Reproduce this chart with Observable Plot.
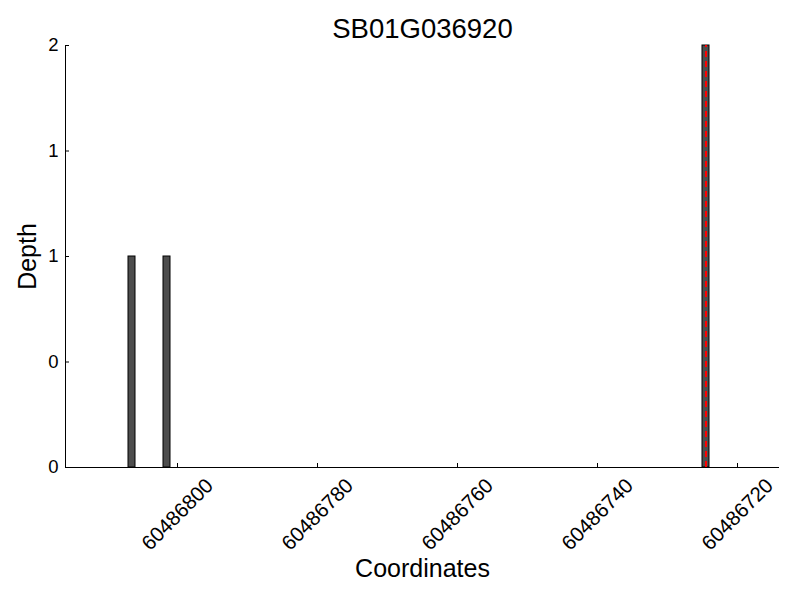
<!DOCTYPE html>
<html>
<head>
<meta charset="utf-8">
<script src="https://cdn.jsdelivr.net/npm/d3@7"></script>
<script src="https://cdn.jsdelivr.net/npm/@observablehq/plot@0.6"></script>
<style>
  body { margin: 0; background: #fff; }
  svg { font-family: "Liberation Sans", Arial, sans-serif; }
</style>
</head>
<body>
<div id="chart"></div>
<script>
const title = "SB01G036920";
const barStarts = [60486806, 60486801, 60486724];
const barDepths = [1, 1, 2];
const markerPos = [60486724.5];
const xDomain = [60486816, 60486714];
const yDomain = [0, 2];
const xTicks = [60486800, 60486780, 60486760, 60486740, 60486720];
const yTicks = [0, 0.5, 1, 1.5, 2];

const bars = barStarts.map((s, i) => ({x1: s, x2: s + 1, depth: barDepths[i]}));

const chart = Plot.plot({
  width: 800,
  height: 600,
  marginLeft: 65,
  marginRight: 21,
  marginTop: 45,
  marginBottom: 133,
  style: {fontFamily: "'Liberation Sans', Arial, sans-serif", background: "#fff"},
  x: {domain: xDomain, axis: null},
  y: {domain: yDomain, axis: null},
  marks: [
    Plot.rectY(bars, {x1: "x1", x2: "x2", y: "depth", fill: "#4d4d4d", stroke: "#000", strokeWidth: 1}),
    Plot.ruleX(markerPos, {y1: yDomain[0], y2: yDomain[1], stroke: "red", strokeWidth: 2, strokeDasharray: "6,4"}),
    Plot.ruleY([yDomain[0]], {stroke: "#000", strokeWidth: 1}),
    Plot.ruleX([xDomain[0]], {stroke: "#000", strokeWidth: 1}),
    Plot.axisY(yTicks, {anchor: "left", tickSize: -4, tickFormat: () => "", label: null, stroke: "#000"}),
    Plot.text(yTicks, {y: d => d, frameAnchor: "left", dx: -7, text: d => String(Math.floor(d)), textAnchor: "end", lineAnchor: "middle", fontSize: 18.5, fill: "#000"}),
    Plot.axisX(xTicks, {anchor: "bottom", tickSize: -4, tickFormat: () => "", label: null, stroke: "#000"}),
    Plot.text(xTicks, {x: d => d, frameAnchor: "bottom", dy: 47, rotate: -45, text: d => String(d), textAnchor: "middle", lineAnchor: "middle", fontSize: 20.5, fill: "#000"}),
    Plot.text([title], {frameAnchor: "top", dy: -16, text: d => d, fontSize: 27.5, fill: "#000", lineAnchor: "middle"}),
    Plot.text(["Depth"], {frameAnchor: "left", dx: -38, rotate: -90, text: d => d, fontSize: 25, fill: "#000", lineAnchor: "middle", textAnchor: "middle"}),
    Plot.text(["Coordinates"], {frameAnchor: "bottom", dy: 101, text: d => d, fontSize: 25, fill: "#000", lineAnchor: "middle"})
  ]
});
document.getElementById("chart").appendChild(chart);
</script>
</body>
</html>
